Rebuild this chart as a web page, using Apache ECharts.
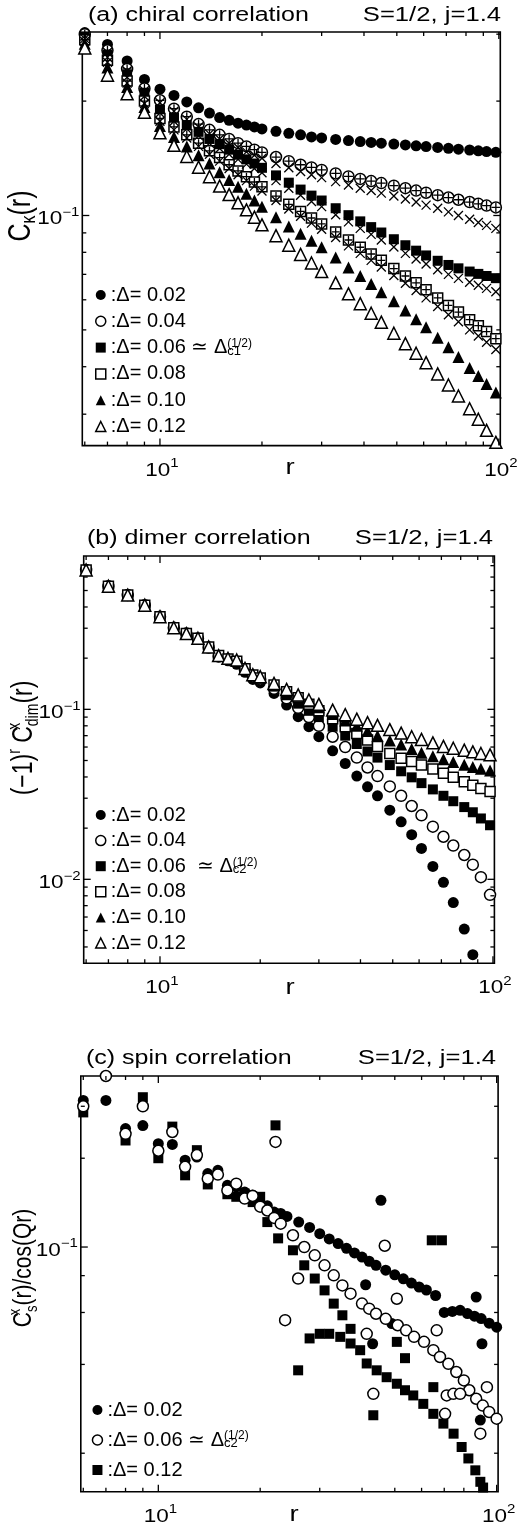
<!DOCTYPE html>
<html><head><meta charset="utf-8">
<script src="https://cdn.jsdelivr.net/npm/echarts@6/dist/echarts.min.js"></script>
<style>html,body{margin:0;padding:0;background:#fff}#c{width:517px;height:1530px}</style>
</head><body><div id="c"></div>
<script>
// ---------- data ----------
const R = [6,7,8,9,10,11,12,13,14,15,16,17,18,19,20,22,24,26,28,30,33,36,39,42,45,49,53,57,61,66,71,76,82,87,92,98];

// (a) chiral correlation
const aD02 = [.303,.282,.255,.228,.215,.207,.199,.192,.186,.181,.178,.175,.173,.171,.169,.1665,.1645,.163,.161,.160,.1585,.1575,.1565,.1557,.155,.1542,.1533,.1525,.1518,.151,.1502,.1495,.1487,.148,.1473,.1466];
const aD04 = [.300,.272,.243,.216,.201,.191,.182,.174,.168,.163,.159,.155,.152,.149,.1465,.1425,.139,.136,.1338,.1318,.129,.1267,.1248,.1232,.1217,.1198,.118,.1163,.1148,.1131,.1115,.110,.1085,.1073,.1062,.105];
const aX04 = [.297,.269,.240,.213,.198,.188,.179,.171,.164,.159,.155,.151,.147,.144,.1415,.137,.1335,.1305,.128,.1258,.1228,.1203,.118,.1163,.1145,.1125,.1105,.1085,.1065,.1045,.1022,.100,.0977,.0958,.0942,.0925];
const aD06 = [.296,.265,.235,.210,.190,.181,.173,.166,.159,.154,.149,.1445,.1405,.137,.1335,.1275,.122,.117,.1128,.1095,.1045,.1002,.0965,.0932,.0902,.0866,.0835,.0808,.0785,.076,.0741,.0726,.0712,.0702,.0693,.0684];
const aX06 = [.292,.261,.231,.206,.186,.177,.169,.162,.155,.150,.145,.1405,.1365,.133,.1295,.1235,.118,.113,.1088,.1055,.1005,.0962,.0925,.0892,.0862,.0826,.0795,.0768,.0745,.072,.070,.0683,.0667,.0655,.0643,.063];
const aD08 = [.290,.256,.226,.200,.180,.171,.163,.155,.148,.142,.136,.131,.1265,.1225,.119,.1125,.107,.1025,.0985,.095,.0905,.0862,.0825,.0792,.0762,.0725,.0693,.0665,.0638,.0607,.058,.0557,.0532,.0513,.0495,.0474];
const aX08 = [.287,.253,.223,.197,.177,.168,.160,.152,.145,.139,.133,.128,.1235,.1195,.116,.1095,.104,.0995,.0955,.092,.0875,.0832,.0795,.0762,.0732,.0695,.0663,.0635,.0607,.0576,.0548,.0525,.050,.0482,.0464,.0444];
const aD10 = [.283,.245,.218,.193,.172,.161,.152,.144,.137,.130,.124,.119,.114,.1095,.1055,.099,.0935,.0895,.0858,.0825,.0775,.073,.0693,.066,.0628,.0595,.0562,.0533,.0508,.0477,.045,.0424,.0397,.0378,.036,.0342];
const aD12 = [.276,.234,.209,.187,.165,.153,.143,.134,.1265,.1195,.1135,.108,.1035,.099,.0945,.0885,.0835,.079,.075,.0712,.0665,.0622,.0586,.0553,.0524,.049,.046,.0434,.041,.0383,.0358,.0335,.031,.0291,.0272,.0253];

// (b) dimer correlation
const bD02 = [.66,.53,.47,.41,.351,.302,.279,.260,.230,.203,.193,.184,.165,.150,.143,.124,.106,.0905,.079,.069,.057,.048,.0405,.035,.031,.0255,.0218,.0183,.0152,.0119,.0096,.0073,.0051,.0036,null,null];
const bD04 = [.66,.53,.47,.41,.351,.302,.279,.261,.231,.205,.196,.189,.170,.156,.150,.132,.116,.102,.090,.080,.069,.060,.052,.0455,.0405,.0352,.031,.027,.0238,.0204,.0178,.0158,.0139,.0122,.0103,.0081];
const bD06 = [.66,.53,.47,.41,.351,.302,.279,.262,.232,.206,.197,.191,.172,.158,.152,.136,.121,.108,.098,.090,.079,.070,.0625,.0565,.052,.047,.0432,.0398,.0368,.0338,.031,.0288,.0266,.0248,.0228,.0208];
const bD08 = [.66,.53,.47,.41,.351,.302,.279,.262,.233,.207,.198,.192,.173,.159,.153,.139,.127,.117,.107,.098,.088,.079,.072,.066,.0605,.055,.0515,.0493,.047,.0445,.042,.0398,.0375,.0358,.0342,.0328];
const bD10 = [.66,.53,.47,.41,.351,.302,.279,.262,.233,.207,.199,.193,.174,.160,.155,.141,.130,.120,.111,.103,.094,.086,.080,.0745,.070,.0655,.062,.0585,.0555,.053,.0508,.049,.0472,.0458,.0447,.0437];
const bD12 = [.66,.53,.47,.41,.351,.302,.279,.262,.233,.207,.1995,.195,.174,.160,.1556,.142,.131,.1215,.1135,.107,.099,.093,.0875,.0835,.0805,.076,.0725,.069,.0665,.0635,.0605,.059,.0575,.0562,.055,.054];

// (c) spin correlation (r, value) incl. scattered points
const cR02 = [6,7,8,9,10,11,12,13,14,15,16,17,18,19,20,21,22,23,24,26,28,30,32,34,36,38,40,42,44,47,50,53,56,59,62,66,70,74,78,82,86,90,95,100,45.5,41,43,49,87,90.5,89.5];
const cV02 = [.314,.314,.252,.258,.224,.2228,.197,.2018,.1774,.182,.1619,.160,.1536,.150,.140,.138,.1314,.130,.127,.1215,.1165,.111,.1065,.1027,.099,.0955,.0925,.0895,.0867,.0835,.0805,.078,.0755,.0732,.0715,.0685,.060,.0605,.061,.0595,.0583,.0572,.0552,.0535,.144,.0745,.047,.055,.0677,.047,.0259];
const cR06 = [6,7,8,9,10,11,12,13,14,15,16,17,18,19,20,21,22,23,25,27,29,31,33,35,37,40,42,44,47,51,54,57,61,65,68,72,76,80,83,87,91,95,100,22.2,23.7,25.9,41.3,43.2,46.7,50.7,66.5,70.4,71.2,74.5,78,89.5,93.6];
const cV06 = [.30,.38,.242,.30,.212,.2455,.187,.205,.1705,.176,.1556,.164,.146,.149,.137,.133,.1255,.12,.1096,.100,.0937,.0867,.0802,.0741,.0695,.0643,.0618,.0594,.0571,.0543,.0522,.0496,.0477,.0447,.0424,.0402,.0377,.0353,.0327,.0306,.029,.0276,.0262,.2272,.0565,.0782,.0508,.0318,.101,.0668,.0522,.0272,.0314,.0318,.0318,.0233,.0335];
const cR12 = [6,8,9,10,11,12,13,14,16,17,18,19,20,21,22.6,25,27,29,31,33,35,37,28,30,32,34.5,37,39.5,41.3,44.2,47.3,50.7,53.6,56.7,60.7,65,69.6,74.6,78.8,82.5,86.5,89.5,91.2,22.2,25.9,43.2,50.7,53.6,65,64.3,68.9];
const cV12 = [.286,.2297,.322,.200,.256,.175,.213,.163,.151,.148,.1516,.142,.148,.1215,.107,.0975,.0867,.0782,.0713,.0643,.0587,.0528,.049,.0508,.0508,.0496,.0471,.0447,.0403,.0382,.0362,.0344,.0327,.0314,.0294,.0272,.0252,.0233,.021,.0192,.0175,.016,.0153,.2585,.0382,.0269,.0477,.042,.0335,.1054,.1054];

// ticks & labels
const xMinorTicks = [6,7,8,9,20,30,40,50,60,70,80,90];
const xMajorTicks = [10,100];
const xLabelVals = [10,100];
const aYMinor = [0.03,0.04,0.05,0.06,0.07,0.08,0.09,0.2,0.3];
const aYMajor = [0.1];
const bYMinor = [0.004,0.005,0.006,0.007,0.008,0.009,0.02,0.03,0.04,0.05,0.06,0.07,0.08,0.09,0.2,0.3,0.4,0.5,0.6,0.7];
const bYMajor = [0.01,0.1];
const cYMinor = [0.02,0.04,0.06,0.08,0.2,0.3];
const cYMajor = [0.1];

// ---------- chart ----------
const FONT = 'Liberation Sans, Arial, Helvetica, sans-serif';
const SX = 1.25;
const chart = echarts.init(document.getElementById('c'), null, {renderer: 'canvas'});

const pairs = (xs, ys) => xs.map((x, i) => [x, ys[i]]).filter(p => p[1] != null);
const OPEN = {color: '#fff', borderColor: '#000', borderWidth: 1.5, opacity: 1};
const FILL = {color: '#000', opacity: 1};
const LINE = {color: 'rgba(0,0,0,0)', borderColor: '#000', borderWidth: 1.3, opacity: 1};
const PLUS = 'path://M5 0V10M0 5H10';
const CROSS = 'path://M0 0L10 10M10 0L0 10';
const SZ = {circle: 11, rect: 10, triangle: 12};

function sc(name, gi, data, symbol, size, style) {
  return {type: 'scatter', name, xAxisIndex: gi, yAxisIndex: gi, data, symbol, symbolSize: size,
    itemStyle: style, clip: false, silent: true, emphasis: {disabled: true}, animation: false};
}

const grids = [
  {left: 82.3, top: 32, width: 418, height: 413.6},
  {left: 83.7, top: 556, width: 410.7, height: 407.2},
  {left: 80.8, top: 1076, width: 417.3, height: 415.8}
];
const yRanges = [[0.0248, 0.304], [0.00321, 0.798], [0.0148, 0.38]];

function supText(v) {
  const e = Math.round(Math.log10(v));
  return '{b|10}{s|' + (e < 0 ? '\u2212' + (-e) : String(e)) + '}';
}
const labelRich = {
  b: {fontSize: 18, fontFamily: FONT, color: '#000', lineHeight: 22, verticalAlign: 'bottom'},
  s: {fontSize: 12, fontFamily: FONT, color: '#000', lineHeight: 12, verticalAlign: 'top'}
};

function tickData(gi, yMinor, yMajor, yLabels) {
  const yRef = Math.sqrt(yRanges[gi][0] * yRanges[gi][1]);
  const d = [];
  xMinorTicks.forEach(v => d.push([v, yRef, 0]));
  xMajorTicks.forEach(v => d.push([v, yRef, 1]));
  yMinor.forEach(v => d.push([10, v, 2]));
  yMajor.forEach(v => d.push([10, v, 3]));
  xLabelVals.forEach(v => d.push([v, yRef, 4]));
  yLabels.forEach(v => d.push([10, v, 5]));
  return d;
}
function renderTick(params, api) {
  const cs = params.coordSys;
  const kind = api.value(2);
  const pt = api.coord([api.value(0), api.value(1)]);
  const ls = {stroke: '#000', lineWidth: 1.3};
  if (kind === 0 || kind === 1) {
    const len = kind === 1 ? 7 : 4;
    const b = cs.y + cs.height, t = cs.y;
    return {type: 'group', children: [
      {type: 'line', shape: {x1: pt[0], y1: b, x2: pt[0], y2: b - len}, style: ls},
      {type: 'line', shape: {x1: pt[0], y1: t, x2: pt[0], y2: t + len}, style: ls}
    ]};
  }
  if (kind === 2 || kind === 3) {
    const len = kind === 3 ? 7 : 4;
    const l = cs.x, r = cs.x + cs.width;
    return {type: 'group', children: [
      {type: 'line', shape: {x1: l, y1: pt[1], x2: l + len, y2: pt[1]}, style: ls},
      {type: 'line', shape: {x1: r, y1: pt[1], x2: r - len, y2: pt[1]}, style: ls}
    ]};
  }
  if (kind === 4) {
    return {type: 'text', x: pt[0] + 2, y: cs.y + cs.height + 23, scaleX: SX,
      style: {text: supText(api.value(0)), rich: labelRich, align: 'center', verticalAlign: 'middle'}};
  }
  return {type: 'text', x: cs.x - 3, y: pt[1] + 2, scaleX: SX,
    style: {text: supText(api.value(1)), rich: labelRich, align: 'right', verticalAlign: 'middle'}};
}
function tickSeries(gi, yMinor, yMajor, yLabels) {
  return {type: 'custom', xAxisIndex: gi, yAxisIndex: gi, data: tickData(gi, yMinor, yMajor, yLabels),
    renderItem: renderTick, clip: false, silent: true, z: 10, animation: false};
}

const series = [
  // (a)
  sc('a02', 0, pairs(R, aD02), 'circle', SZ.circle, FILL),
  sc('a04', 0, pairs(R, aD04), 'circle', SZ.circle, OPEN),
  sc('a06', 0, pairs(R, aD06), 'rect', SZ.rect, FILL),
  sc('a08', 0, pairs(R, aD08), 'rect', SZ.rect, OPEN),
  sc('a10', 0, pairs(R, aD10), 'triangle', SZ.triangle, FILL),
  sc('a12', 0, pairs(R, aD12), 'triangle', SZ.triangle, OPEN),
  sc('ap04', 0, pairs(R, aD04), PLUS, 9, LINE),
  sc('ap08', 0, pairs(R, aD08), PLUS, 8, LINE),
  sc('ax04', 0, pairs(R, aX04), CROSS, 9, LINE),
  sc('ax06', 0, pairs(R, aX06), CROSS, 9, LINE),
  sc('ax08', 0, pairs(R, aX08), CROSS, 9, LINE),
  // (b)
  sc('b02', 1, pairs(R, bD02), 'circle', SZ.circle, FILL),
  sc('b04', 1, pairs(R, bD04), 'circle', SZ.circle, OPEN),
  sc('b06', 1, pairs(R, bD06), 'rect', SZ.rect, FILL),
  sc('b08', 1, pairs(R, bD08), 'rect', SZ.rect, OPEN),
  sc('b10', 1, pairs(R, bD10), 'triangle', SZ.triangle, FILL),
  sc('b12', 1, pairs(R, bD12), 'triangle', SZ.triangle, OPEN),
  // (c)
  sc('c12', 2, pairs(cR12, cV12), 'rect', SZ.rect, FILL),
  sc('c02', 2, pairs(cR02, cV02), 'circle', SZ.circle, FILL),
  sc('c06', 2, pairs(cR06, cV06), 'circle', SZ.circle, OPEN),
  tickSeries(0, aYMinor, aYMajor, [0.1]),
  tickSeries(1, bYMinor, bYMajor, [0.01, 0.1]),
  tickSeries(2, cYMinor, cYMajor, [0.1])
];

const legendNames = {
  a02: ':\u0394= 0.02', a04: ':\u0394= 0.04', a06: ':\u0394= 0.06 \u2243 \u0394{p|(1/2)}{q|c1}',
  a08: ':\u0394= 0.08', a10: ':\u0394= 0.10', a12: ':\u0394= 0.12',
  b02: ':\u0394= 0.02', b04: ':\u0394= 0.04', b06: ':\u0394= 0.06  \u2243 \u0394{p|(1/2)}{q|c2}',
  b08: ':\u0394= 0.08', b10: ':\u0394= 0.10', b12: ':\u0394= 0.12',
  c02: ':\u0394= 0.02', c06: ':\u0394= 0.06 \u2243 \u0394{p|(1/2)}{q|c2}', c12: ':\u0394= 0.12'
};
const legIcon = {
  a02: ['circle', FILL], a04: ['circle', OPEN], a06: ['rect', FILL],
  a08: ['rect', OPEN], a10: ['triangle', FILL], a12: ['triangle', OPEN],
  b02: ['circle', FILL], b04: ['circle', OPEN], b06: ['rect', FILL],
  b08: ['rect', OPEN], b10: ['triangle', FILL], b12: ['triangle', OPEN],
  c02: ['circle', FILL], c06: ['circle', OPEN], c12: ['rect', FILL]
};
const legRich = {
  p: {fontSize: 12, fontFamily: FONT, lineHeight: 12, verticalAlign: 'top', width: 0, color: '#000'},
  q: {fontSize: 13, fontFamily: FONT, lineHeight: 12, verticalAlign: 'bottom', color: '#000'}
};
function legend(names, left, top, gap) {
  return {
    orient: 'vertical', left, top, itemGap: gap, itemWidth: 10, itemHeight: 10, padding: 0,
    selectedMode: false,
    data: names.map(n => ({name: n, icon: legIcon[n][0], itemStyle: legIcon[n][1]})),
    formatter: n => legendNames[n],
    textStyle: {fontSize: 20, fontFamily: FONT, color: '#000', lineHeight: 20, rich: legRich}
  };
}

const tStyle = (size) => ({font: size + 'px ' + FONT, fill: '#000'});
function gText(text, x, y, align, size) {
  return {type: 'text', x, y, scaleX: SX, silent: true,
    style: Object.assign({text, align, verticalAlign: 'middle'}, tStyle(size))};
}
function yRich(fs) {
  const s = Math.round(fs * 0.62);
  return {
    m: {fontSize: fs, fontFamily: FONT, color: '#000', lineHeight: fs + 5, verticalAlign: 'middle'},
    sup: {fontSize: s, fontFamily: FONT, color: '#000', lineHeight: s, verticalAlign: 'top'},
    sup0: {fontSize: s, fontFamily: FONT, color: '#000', lineHeight: s, verticalAlign: 'top', width: 0},
    sub: {fontSize: s, fontFamily: FONT, color: '#000', lineHeight: s, verticalAlign: 'bottom'}
  };
}
function yTitle(text, x, y, fs) {
  return {type: 'text', x, y, rotation: Math.PI / 2, scaleY: SX, silent: true,
    style: {text, rich: yRich(fs), align: 'center', verticalAlign: 'middle'}};
}

const option = {
  animation: false,
  backgroundColor: '#fff',
  grid: grids.map(g => Object.assign({show: true, borderColor: '#000', borderWidth: 1.6, backgroundColor: 'rgba(0,0,0,0)'}, g)),
  xAxis: grids.map((g, i) => ({type: 'log', logBase: 10, gridIndex: i, min: 5.9, max: 101,
    axisLine: {show: false}, axisTick: {show: false}, axisLabel: {show: false}, splitLine: {show: false}})),
  yAxis: grids.map((g, i) => ({type: 'log', logBase: 10, gridIndex: i, min: yRanges[i][0], max: yRanges[i][1],
    axisLine: {show: false}, axisTick: {show: false}, axisLabel: {show: false}, splitLine: {show: false}})),
  legend: [
    legend(['a02','a04','a06','a08','a10','a12'], 95, 285, 6.3),
    legend(['b02','b04','b06','b08','b10','b12'], 95, 805, 5.6),
    legend(['c02','c06','c12'], 91.7, 1400, 10)
  ],
  graphic: [
    gText('(a) chiral correlation', 88, 15, 'left', 20),
    gText('S=1/2, j=1.4', 501, 15, 'right', 20.5),
    gText('(b) dimer correlation', 87, 538, 'left', 20),
    gText('S=1/2, j=1.4', 493, 538, 'right', 20.5),
    gText('(c) spin correlation', 86, 1058, 'left', 20),
    gText('S=1/2, j=1.4', 496, 1058, 'right', 20.5),
    gText('r', 290, 468, 'center', 22),
    gText('r', 290, 988, 'center', 22),
    gText('r', 294, 1515, 'center', 22),
    yTitle('{m|C}{sub|\u03ba}{m|(r)}', 21, 216, 25),
    yTitle('{m|(\u22121)}{sup|r}{m| C}{sup0|x}{sub|dim}{m|(r)}', 24, 738, 23),
    yTitle('{m|C}{sup0|x}{sub|s}{m|(r)/cos(Qr)}', 24, 1268, 21)
  ],
  series
};
chart.setOption(option);
</script>
</body></html>
